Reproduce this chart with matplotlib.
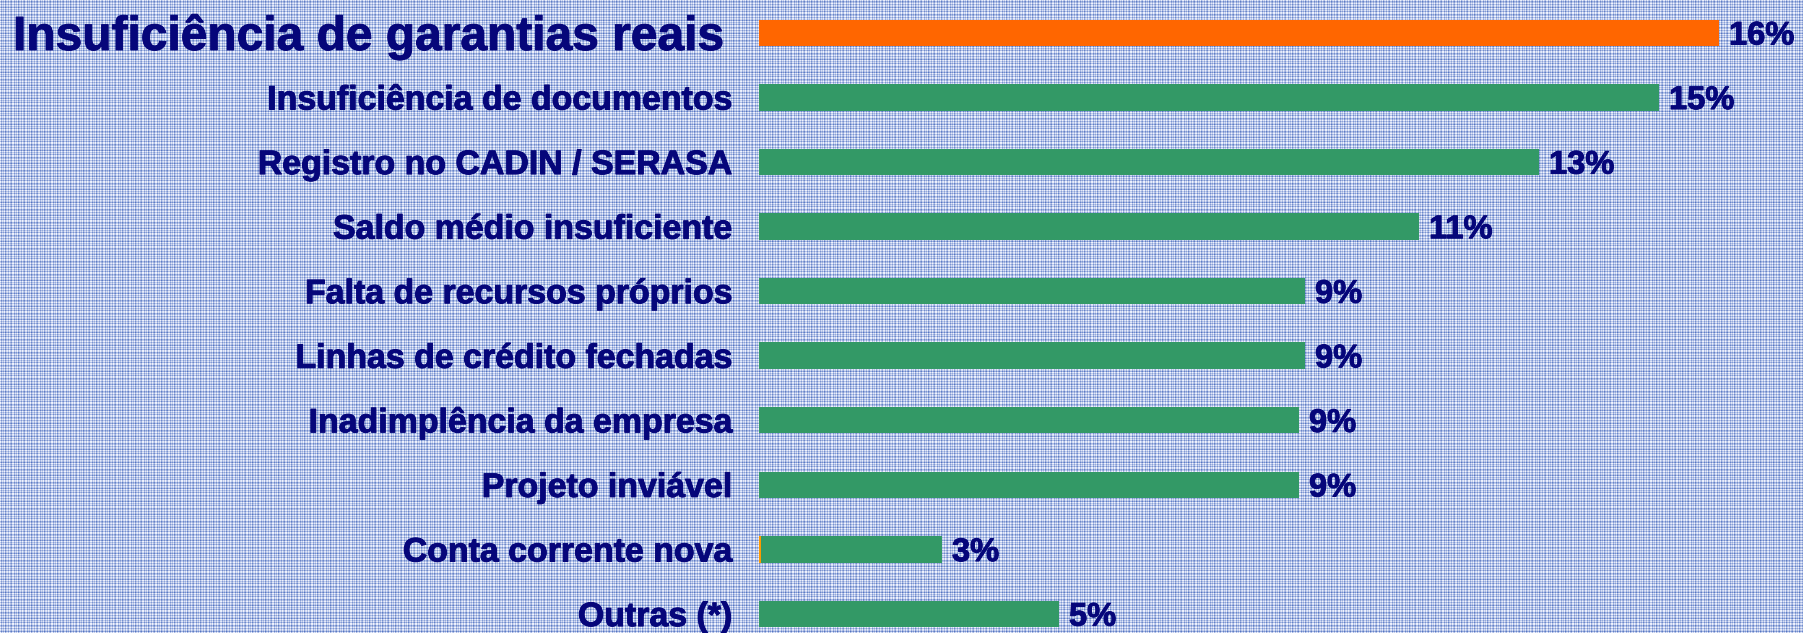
import matplotlib
matplotlib.use("Agg")
from matplotlib import pyplot as plt
import matplotlib.patheffects as pe
import numpy as np

# data
categorias = ['Insuficiência de garantias reais', 'Insuficiência de documentos',
              'Registro no CADIN / SERASA', 'Saldo médio insuficiente',
              'Falta de recursos próprios', 'Linhas de crédito fechadas',
              'Inadimplência da empresa', 'Projeto inviável',
              'Conta corrente nova', 'Outras (*)']
valores = [16.0, 15.0, 13.0, 11.0, 9.1, 9.1, 9.0, 9.0, 3.05, 5.0]
rotulos = ['16%', '15%', '13%', '11%', '9%', '9%', '9%', '9%', '3%', '5%']
# small orange slice at the start of the "Conta corrente nova" bar
fatia_laranja = [0, 0, 0, 0, 0, 0, 0, 0, 0.04, 0]

VERDE = '#339966'
LARANJA = '#ff6600'
AZUL_TXT = '#06067a'

W, H = 1803, 633
fig = plt.figure(figsize=(W / 100, H / 100), dpi=100)

# plaid background texture
seq = np.array([1.0, 0.3, 0.85, 0.5, 1.0, 0.15, 0.7, 0.9, 0.4, 1.0, 0.55, 0.25, 0.95])
cols = np.resize(seq, W)
rows = np.resize(seq[::-1], H)
t = (cols[None, :] + rows[:, None]) / 2.0
claro = np.array([0.95, 0.96, 1.0])
escuro = np.array([0.22, 0.37, 0.72])
bg = escuro + (claro - escuro) * t[:, :, None]
fig.figimage(bg, 0, 0, zorder=0)

x0 = 759
px_por_pct = 60.0
ax = fig.add_axes([x0 / W, 0, 1 - x0 / W, 1])
ax.set_zorder(2)
ax.set_facecolor('none')
ax.set_xlim(0, (W - x0) / px_por_pct)
passo = 64.57
topo = 32.8
ax.set_ylim((H - topo) / passo, -topo / passo)
ax.axis('off')

y = np.arange(len(categorias))
cores = [LARANJA] + [VERDE] * (len(categorias) - 1)
ax.barh(y, fatia_laranja, height=0.41, color='#ff9900', zorder=3)
ax.barh(y, np.array(valores) - np.array(fatia_laranja), left=fatia_laranja,
        height=0.41, color=cores, zorder=3)

plt.rcParams['font.family'] = ['Liberation Sans', 'DejaVu Sans']
# slightly heavier strokes, like the original Arial Bold rendering
grosso = [pe.withStroke(linewidth=0.7, foreground=AZUL_TXT)]
for i, (cat, v, r) in enumerate(zip(categorias, valores, rotulos)):
    fs = 34.5 if i == 0 else 24.4
    gap = 35 if i == 0 else 27
    ax.annotate(cat, xy=(0, i), xytext=(-gap * 0.72, -0.358 * fs),
                textcoords='offset points', ha='right', va='baseline',
                fontsize=fs, fontweight='bold', color=AZUL_TXT,
                annotation_clip=False, path_effects=grosso)
    ax.annotate(r, xy=(v, i), xytext=(10 * 0.72, -0.358 * 23.5),
                textcoords='offset points', ha='left', va='baseline',
                fontsize=23.5, fontweight='bold', color=AZUL_TXT,
                annotation_clip=False, path_effects=grosso)

fig.savefig('out.png', dpi=100)
